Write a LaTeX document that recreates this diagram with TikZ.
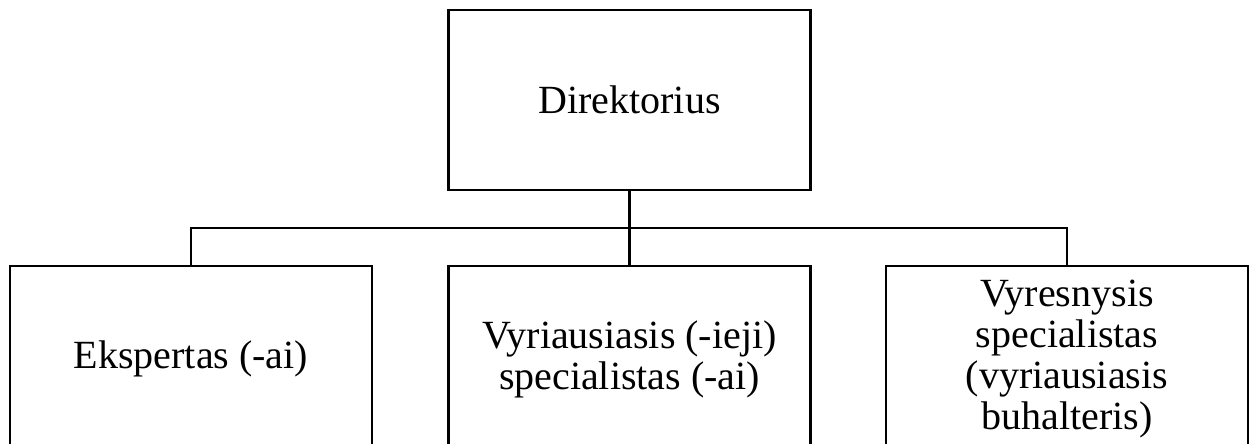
\documentclass[tikz,border=0pt]{standalone}
\usepackage{fontspec}
\setmainfont{Liberation Serif}
\begin{document}
\begin{tikzpicture}[x=1pt,y=-1pt,
  box/.style={draw=black,line width=2.2pt,minimum width=362pt,minimum height=180pt,
    inner sep=0pt,align=center,font=\fontsize{40}{41}\selectfont,anchor=center},
  childbox/.style={box,minimum height=186pt},
  conn/.style={draw=black,line width=2.2pt}]
\useasboundingbox (0,0) rectangle (1255,444);
\clip (0,0) rectangle (1255,444);
\node[box] (dir) at (629.5,100) {Direktorius};
\node[childbox] (eks) at (191,359) {Ekspertas (-ai)};
\node[childbox] (vyr) at (629.5,359) {Vyriausiasis (-ieji)\\specialistas (-ai)};
\node[childbox] (vyres) at (1067,359) {Vyresnysis\\specialistas\\(vyriausiasis\\buhalteris)};
\coordinate (j) at (629.5,228);
\draw[conn] (dir.south) -- (j);
\draw[conn] (eks.north) |- (j) -| (vyres.north);
\draw[conn] (j) -- (vyr.north);
\end{tikzpicture}
\end{document}
